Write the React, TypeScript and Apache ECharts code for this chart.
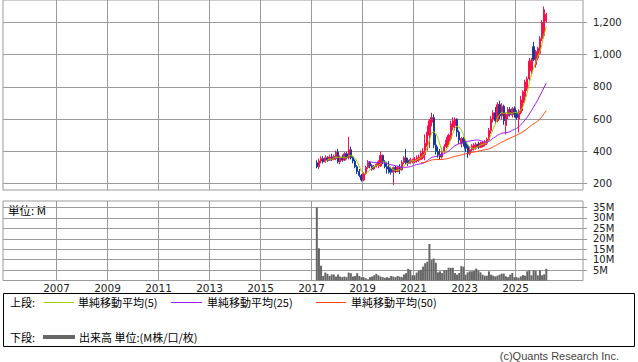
import React, { useEffect, useRef } from "react";
import * as echarts from "echarts";

// Monthly candles, first month = March 2017
const startYear = 2017;
const startMonth = 3;

const opens = [
  330, 305, 340, 355, 335, 360, 345, 365, 350, 355,
  395, 335, 365, 345, 385, 360, 410, 360, 340, 305,
  275, 250, 222, 262, 300, 330, 310, 290, 305, 315,
  310, 375, 335, 305, 300, 290, 270, 300, 275, 300,
  285, 330, 360, 345, 325, 335, 335, 340, 345, 350,
  360, 380, 430, 500, 580, 610, 440, 400, 380, 365,
  400, 430, 460, 480, 550, 560, 600, 520, 445, 480,
  460, 430, 385, 410, 415, 420, 445, 425, 430, 440,
  450, 470, 530, 600, 640, 590, 690, 620, 680, 560,
  620, 660, 625, 665, 640, 600, 640, 700, 740, 790,
  850, 900, 1050, 940, 980, 1010, 1100, 1120, 1210,
];
const closes = [
  305, 340, 355, 335, 360, 345, 365, 350, 370, 395,
  335, 365, 345, 385, 360, 410, 360, 340, 305, 275,
  250, 222, 262, 300, 330, 310, 290, 305, 320, 335,
  375, 335, 305, 290, 270, 270, 300, 275, 300, 285,
  330, 360, 330, 325, 350, 345, 350, 360, 365, 390,
  400, 450, 520, 590, 610, 440, 400, 380, 365, 400,
  430, 470, 500, 570, 590, 600, 520, 470, 480, 450,
  420, 385, 410, 435, 440, 445, 425, 450, 455, 460,
  475, 530, 600, 640, 590, 690, 620, 680, 590, 630,
  660, 630, 665, 630, 610, 650, 720, 770, 830, 850,
  960, 965, 970, 1020, 1040, 1100, 1200, 1280, 1250,
];
const lows = [
  295, 290, 325, 325, 330, 335, 340, 340, 345, 345,
  325, 320, 335, 340, 350, 350, 350, 325, 295, 260,
  240, 212, 215, 255, 290, 295, 280, 283, 300, 295,
  303, 320, 295, 262, 262, 255, 190, 265, 270, 260,
  280, 320, 320, 310, 320, 325, 325, 330, 335, 345,
  350, 345, 405, 420, 555, 420, 380, 360, 350, 355,
  390, 420, 440, 465, 530, 530, 490, 445, 425, 430,
  395, 360, 375, 400, 405, 410, 415, 420, 425, 430,
  440, 465, 510, 580, 575, 580, 600, 600, 565, 505,
  600, 615, 610, 610, 595, 517, 630, 650, 700, 775,
  840, 880, 960, 920, 965, 1000, 1085, 1110, 1200,
];
const highs = [
  345, 355, 370, 370, 375, 370, 380, 385, 380, 405,
  415, 375, 380, 395, 395, 490, 430, 370, 350, 315,
  290, 260, 270, 310, 345, 340, 320, 315, 325, 345,
  400, 380, 345, 335, 340, 305, 305, 310, 310, 320,
  345, 370, 415, 360, 360, 355, 365, 375, 380, 405,
  420, 505, 560, 600, 640, 630, 505, 430, 415, 420,
  445, 490, 510, 590, 612, 610, 605, 530, 490, 490,
  470, 445, 425, 445, 450, 455, 460, 460, 465, 470,
  485, 545, 620, 655, 675, 705, 715, 700, 690, 640,
  675, 675, 675, 680, 655, 660, 745, 780, 845, 865,
  980, 980, 1080, 1030, 1050, 1115, 1215, 1300, 1260,
];
// Volume in millions
const volumes = [
  35, 15.4, 7.1, 2.2, 3.8, 3.2, 2.2, 2.9, 2.9, 1.9,
  2.9, 1.9, 1.6, 1.9, 1.6, 3.8, 3.5, 1.9, 2.2, 3.5,
  2.2, 1.6, 1.6, 1.1, 0.6, 1.6, 1.9, 2.5, 3.2, 2.5,
  1.9, 1.6, 1.3, 1.6, 1.3, 2.2, 1.9, 1.6, 2.2, 1.9,
  1.6, 2.9, 3.5, 5.6, 5.1, 2.5, 2.5, 3.8, 4.8, 5.1,
  6.7, 8.3, 9.0, 17.5, 9.8, 10.5, 8.5, 3.9, 4.4, 3.6,
  4.9, 4.9, 6.1, 6.1, 6.1, 3.6, 2.8, 3.6, 6.9, 6.6,
  2.8, 3.9, 4.4, 4.4, 4.6, 5.7, 4.9, 3.9, 2.8, 2.3,
  2.3, 4.4, 2.8, 2.3, 2.0, 2.3, 2.8, 3.3, 3.3, 2.0,
  1.6, 2.8, 3.6, 1.6, 1.6, 1.3, 2.0, 2.6, 2.3, 4.4,
  4.9, 2.5, 4.9, 4.6, 2.5, 4.9, 2.5, 3.0, 5.6,
];

const yearTicks = [2007, 2009, 2011, 2013, 2015, 2017, 2019, 2021, 2023, 2025];
const priceTicks = [200, 400, 600, 800, 1000, 1200];
const volumeTicks = [5, 10, 15, 20, 25, 30, 35];
const maPeriods = [5, 25, 50];
const maNames = ["単純移動平均(5)", "単純移動平均(25)", "単純移動平均(50)"];
const maColors = ["#9fcc00", "#9a1ef0", "#ff4a14"];

const X_MIN = 2004.902;
const X_MAX = 2027.647;

const UP = "#f5124c";
const DOWN = "#143c9a";
const GRID = "#9a9a9a";
const AXIS_FONT = "DejaVu Sans";
const JP_FONT = "Noto Sans CJK JP";

function monthX(i: number): number {
  return startYear + (startMonth - 1 + i + 0.5) / 12;
}

function sma(values: number[], n: number): [number, number][] {
  const out: [number, number][] = [];
  for (let i = n - 1; i < values.length; i++) {
    let s = 0;
    for (let k = i - n + 1; k <= i; k++) s += values[k];
    out.push([monthX(i), s / n]);
  }
  return out;
}

export default function App() {
  const ref = useRef<HTMLDivElement>(null);

  useEffect(() => {
    if (!ref.current) return;
    const chart = echarts.init(ref.current, undefined, { renderer: "svg" });

    const candleData = opens.map((o, i) => [monthX(i), o, closes[i], lows[i], highs[i]]);
    const volData = volumes.map((v, i) => [monthX(i), v]);

    const xAxisBase = {
      type: "value" as const,
      min: X_MIN,
      max: X_MAX,
      axisLine: { show: false },
      axisTick: { show: false, customValues: yearTicks },
      splitLine: { show: true, lineStyle: { color: GRID, width: 1 } },
    };

    const labelStyle = {
      color: "#222",
      fontSize: 10,
      fontFamily: AXIS_FONT,
    };

    chart.setOption({
      animation: false,
      backgroundColor: "#fff",
      grid: [
        { left: 3, top: 0, width: 580, height: 190, show: true, borderColor: GRID, borderWidth: 1 },
        { left: 3, top: 201, width: 580, height: 79.5, show: true, borderColor: GRID, borderWidth: 1 },
      ],
      xAxis: [
        { ...xAxisBase, gridIndex: 0, axisLabel: { show: false, customValues: yearTicks } },
        {
          ...xAxisBase,
          gridIndex: 1,
          axisLabel: {
            show: true,
            customValues: yearTicks,
            formatter: (v: number) => String(Math.round(v)),
            margin: 2,
            ...labelStyle,
            fontSize: 10.5,
          },
        },
      ],
      yAxis: [
        {
          type: "value",
          gridIndex: 0,
          position: "right",
          min: 160,
          max: 1340,
          axisLine: { show: false },
          axisTick: { show: true, length: 4, lineStyle: { color: GRID }, customValues: priceTicks },
          axisLabel: {
            customValues: priceTicks,
            formatter: (v: number) => v.toLocaleString("en-US"),
            margin: 10,
            ...labelStyle,
          },
          splitLine: { show: true, lineStyle: { color: GRID, width: 1 } },
        },
        {
          type: "value",
          gridIndex: 1,
          position: "right",
          min: 0,
          max: 38.1,
          axisLine: { show: false },
          axisTick: { show: true, length: 4, lineStyle: { color: GRID }, customValues: volumeTicks },
          axisLabel: {
            customValues: volumeTicks,
            formatter: (v: number) => `${v}M`,
            margin: 10,
            ...labelStyle,
          },
          splitLine: { show: true, lineStyle: { color: GRID, width: 1 } },
        },
      ],
      series: [
        {
          type: "candlestick",
          name: "株価",
          xAxisIndex: 0,
          yAxisIndex: 0,
          barWidth: 1.8,
          data: candleData,
          itemStyle: {
            color: UP,
            color0: DOWN,
            borderColor: UP,
            borderColor0: DOWN,
            borderWidth: 1,
          },
        },
        ...maPeriods.map((n, k) => ({
          type: "line",
          name: maNames[k],
          xAxisIndex: 0,
          yAxisIndex: 0,
          data: sma(closes, n),
          showSymbol: false,
          symbol: "none",
          lineStyle: { color: maColors[k], width: 1 },
          z: 3,
        })),
        {
          type: "bar",
          name: "出来高",
          xAxisIndex: 1,
          yAxisIndex: 1,
          barWidth: 2,
          data: volData,
          itemStyle: { color: "#666666" },
        },
      ],
      graphic: [
        {
          type: "text",
          style: { text: "単位: M", x: 8, y: 209.5, fill: "#000", fontSize: 11.5, fontFamily: JP_FONT, verticalAlign: "middle" },
        },
        {
          type: "rect",
          shape: { x: 3.5, y: 293.5, width: 631, height: 53 },
          style: { fill: "none", stroke: "#000", lineWidth: 1 },
        },
        {
          type: "text",
          style: { text: "上段:", x: 10, y: 302, fill: "#000", fontSize: 11, fontFamily: JP_FONT, verticalAlign: "middle" },
        },
        { type: "line", shape: { x1: 44, y1: 302.5, x2: 74, y2: 302.5 }, style: { stroke: maColors[0], lineWidth: 1 } },
        {
          type: "text",
          style: { text: maNames[0], x: 78, y: 302, fill: "#000", fontSize: 11, fontFamily: JP_FONT, verticalAlign: "middle" },
        },
        { type: "line", shape: { x1: 171, y1: 302.5, x2: 202, y2: 302.5 }, style: { stroke: maColors[1], lineWidth: 1 } },
        {
          type: "text",
          style: { text: maNames[1], x: 207, y: 302, fill: "#000", fontSize: 11, fontFamily: JP_FONT, verticalAlign: "middle" },
        },
        { type: "line", shape: { x1: 316, y1: 302.5, x2: 346, y2: 302.5 }, style: { stroke: maColors[2], lineWidth: 1 } },
        {
          type: "text",
          style: { text: maNames[2], x: 351, y: 302, fill: "#000", fontSize: 11, fontFamily: JP_FONT, verticalAlign: "middle" },
        },
        {
          type: "text",
          style: { text: "下段:", x: 10, y: 337, fill: "#000", fontSize: 11, fontFamily: JP_FONT, verticalAlign: "middle" },
        },
        { type: "line", shape: { x1: 43, y1: 337, x2: 75, y2: 337 }, style: { stroke: "#666666", lineWidth: 4 } },
        {
          type: "text",
          style: { text: "出来高 単位:(M株/口/枚)", x: 79, y: 337, fill: "#000", fontSize: 11, fontFamily: JP_FONT, verticalAlign: "middle" },
        },
        {
          type: "text",
          style: {
            text: "(c)Quants Research Inc.",
            x: 619,
            y: 356,
            fill: "#444",
            fontSize: 11,
            fontFamily: "Liberation Sans",
            align: "right",
            verticalAlign: "middle",
          },
        },
      ],
    });

    return () => chart.dispose();
  }, []);

  return (
    <div
      ref={ref}
      style={{ position: "absolute", left: 0, top: 0, width: 638, height: 362, background: "#fff" }}
    />
  );
}
